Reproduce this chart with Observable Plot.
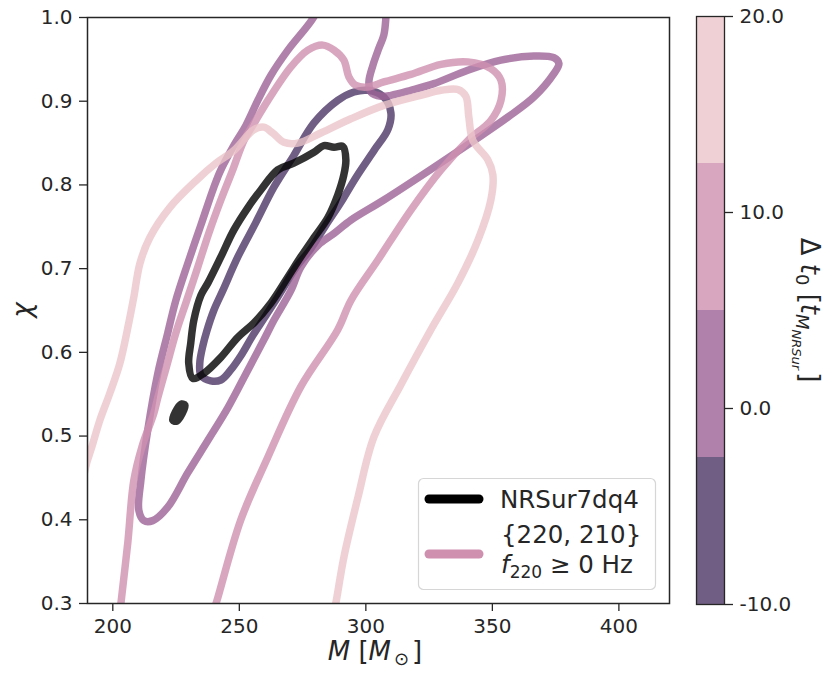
<!DOCTYPE html>
<html><head><meta charset="utf-8">
<script src="https://cdn.jsdelivr.net/npm/d3@7"></script>
<script src="https://cdn.jsdelivr.net/npm/@observablehq/plot@0.6"></script>
<style>
body{margin:0;background:#fff;font-family:"DejaVu Sans",sans-serif;color:#262626}
#wrap{position:relative;width:830px;height:678px;overflow:hidden}
#wrap > svg{position:absolute;left:0;top:0}
</style></head><body><div id="wrap"></div>
<script>
// ---- axes / ticks ----
const xTicks = [200, 250, 300, 350, 400];
const yTicks = [0.3, 0.4, 0.5, 0.6, 0.7, 0.8, 0.9, 1.0];
const cbTicks = [-10, 0, 10, 20];
// ---- colour bar bands (Δt0 edges) ----
const bandLo = [-10, -2.5, 5, 12.5];
const bandHi = [-2.5, 5, 12.5, 20];
const bandMid = [-10, 0, 10, 20];
const bandColors = ["#4c3665", "#9c6396", "#cf90b0", "#ebc4c9"];

// ---- contours [M, chi] ----
const nrsurMain = [[230.0,0.587],[230.8,0.611],[232.0,0.638],[234.8,0.668],[237.6,0.683],[242.7,0.714],[247.8,0.746],[253.4,0.773],[258.5,0.794],[265.2,0.818],[271.5,0.826],[279.5,0.839],[283.4,0.847],[287.4,0.845],[290.9,0.846],[292.1,0.830],[291.3,0.812],[288.9,0.788],[285.0,0.761],[279.5,0.737],[274.3,0.714],[269.2,0.690],[262.5,0.659],[255.7,0.635],[249.4,0.618],[242.7,0.594],[236.0,0.575],[231.6,0.569]];
const nrsurBlob = [[223.7,0.519],[226.9,0.538],[228.5,0.537],[225.3,0.518]];
const dtMinus10 = [[234.8,0.573],[234.4,0.588],[235.6,0.608],[237.2,0.626],[239.9,0.650],[243.5,0.674],[249.4,0.714],[256.5,0.755],[263.6,0.797],[271.5,0.835],[279.5,0.874],[288.9,0.901],[295.3,0.911],[300.8,0.913],[307.1,0.905],[309.9,0.886],[308.7,0.866],[303.2,0.841],[296.1,0.809],[290.1,0.779],[284.2,0.752],[278.3,0.724],[272.3,0.701],[266.4,0.672],[260.5,0.644],[255.3,0.620],[250.6,0.596],[246.6,0.579],[242.7,0.567],[238.7,0.566]];
const dtZero = [[281.5,1.015],[279.1,0.999],[269.2,0.961],[262.5,0.931],[257.3,0.901],[252.6,0.871],[247.8,0.847],[242.7,0.818],[239.9,0.797],[234.8,0.752],[229.6,0.706],[224.9,0.662],[221.7,0.623],[217.8,0.575],[213.8,0.507],[211.1,0.447],[210.3,0.411],[212.3,0.399],[215.8,0.399],[221.7,0.415],[229.6,0.456],[237.6,0.495],[245.5,0.534],[253.4,0.579],[259.7,0.615],[263.6,0.638],[270.4,0.674],[274.3,0.702],[281.1,0.728],[287.4,0.742],[294.1,0.758],[307.1,0.782],[326.9,0.821],[342.7,0.853],[356.1,0.881],[366.4,0.905],[374.3,0.933],[376.3,0.945],[374.3,0.952],[366.4,0.954],[353.4,0.949],[340.3,0.937],[326.9,0.921],[317.8,0.913],[309.9,0.907],[306.0,0.906],[302.0,0.911],[301.2,0.923],[302.8,0.943],[305.1,0.963],[307.1,0.979],[307.9,0.999],[308.0,1.015]];
const dtTen = [[202.8,0.286],[203.2,0.300],[205.9,0.372],[208.3,0.447],[211.5,0.487],[216.2,0.527],[217.8,0.546],[221.4,0.585],[224.9,0.623],[229.2,0.662],[233.6,0.702],[237.9,0.742],[242.7,0.782],[247.4,0.818],[251.8,0.853],[256.5,0.877],[261.3,0.901],[270.4,0.941],[277.1,0.961],[283.0,0.967],[287.4,0.961],[291.3,0.949],[293.3,0.929],[296.0,0.919],[300.8,0.917],[307.1,0.923],[317.8,0.932],[329.7,0.944],[340.3,0.947],[349.4,0.939],[353.4,0.925],[353.4,0.901],[349.4,0.877],[340.3,0.853],[329.7,0.818],[317.8,0.770],[304.7,0.710],[294.1,0.662],[288.9,0.627],[274.3,0.559],[261.3,0.475],[250.6,0.400],[241.5,0.307],[239.9,0.291]];
const dtTwenty = [[187.4,0.435],[189.7,0.468],[191.7,0.487],[194.9,0.519],[198.8,0.551],[202.8,0.587],[206.3,0.635],[208.3,0.666],[210.7,0.706],[214.6,0.737],[222.5,0.773],[233.2,0.806],[240.8,0.826],[247.8,0.841],[255.7,0.866],[259.7,0.869],[263.2,0.862],[267.6,0.851],[273.1,0.850],[282.2,0.862],[294.1,0.879],[307.1,0.895],[321.7,0.907],[329.7,0.913],[336.4,0.914],[339.5,0.906],[340.7,0.881],[342.3,0.853],[348.2,0.830],[350.2,0.812],[349.4,0.782],[344.3,0.734],[336.4,0.683],[325.7,0.627],[313.8,0.561],[303.2,0.499],[296.9,0.427],[291.3,0.355],[288.1,0.300],[287.0,0.286]];

const rows = (pts, id, dt) => pts.map(([M, chi]) => ({M, chi, id, dt}));
const closedRows = [...rows(dtMinus10, "m10", -10)];
const openRows = [...rows(dtZero, "z0", 0), ...rows(dtTen, "t10", 10), ...rows(dtTwenty, "t20", 20)];
const blackRows = [...rows(nrsurMain, "main", null), ...rows(nrsurBlob, "blob", null)];
const bands = bandLo.map((lo, i) => ({lo, hi: bandHi[i], dt: bandMid[i]}));

const colorOpt = {type: "threshold", domain: [-2.5, 5, 12.5], range: bandColors};
const font = {fontFamily: "DejaVu Sans", fontSize: "20px", color: "#262626", background: "transparent", overflow: "visible"};
const lineOpt = {x: "M", y: "chi", z: "id", strokeWidth: 7.5, strokeOpacity: 0.8, strokeLinejoin: "round", strokeLinecap: "round", clip: true};

const main = Plot.plot({
  width: 830, height: 678,
  marginLeft: 87, marginRight: 161, marginTop: 17, marginBottom: 75,
  x: {domain: [190, 420]},
  y: {domain: [0.3, 1.0]},
  color: colorOpt,
  style: font,
  marks: [
    Plot.axisX({ticks: xTicks, tickSize: 8, tickPadding: 7, tickFormat: d => String(d), label: null, fontSize: 20, strokeWidth: 1.3}),
    Plot.axisY({ticks: yTicks, tickSize: 8, tickPadding: 7, tickFormat: d => d.toFixed(1), label: null, fontSize: 20, strokeWidth: 1.3}),
    Plot.line(closedRows, {...lineOpt, stroke: "dt", curve: "catmull-rom-closed"}),
    Plot.line(openRows, {...lineOpt, stroke: "dt", curve: "catmull-rom"}),
    Plot.line(blackRows, {...lineOpt, stroke: "black", curve: "catmull-rom-closed"}),
    Plot.frame({stroke: "#262626", strokeWidth: 1.5})
  ]
});

const cbar = Plot.plot({
  width: 830, height: 678,
  marginLeft: 696, marginRight: 106, marginTop: 16, marginBottom: 74,
  y: {domain: [-10, 20]},
  color: colorOpt,
  style: font,
  marks: [
    Plot.rect(bands, {y1: "lo", y2: "hi", fill: "dt", fillOpacity: 0.8}),
    Plot.axisY({anchor: "right", ticks: cbTicks, tickSize: 8, tickPadding: 7, tickFormat: d => d.toFixed(1), label: null, fontSize: 20, strokeWidth: 1.3}),
    Plot.frame({stroke: "#262626", strokeWidth: 1.3})
  ]
});

const wrap = document.getElementById("wrap");
wrap.appendChild(main);
wrap.appendChild(cbar);

// ---- labels & legend overlay ----
const svg = d3.create("svg").attr("width", 830).attr("height", 678)
  .style("font-family", "DejaVu Sans").style("fill", "#262626");
// x label
const xl = svg.append("text").attr("x", 375).attr("y", 660).attr("text-anchor", "middle").attr("font-size", 26).attr("fill", "#262626");
xl.append("tspan").attr("font-style", "italic").text("M");
xl.append("tspan").text(" [");
xl.append("tspan").attr("font-style", "italic").text("M");
xl.append("tspan").attr("font-size", 18).attr("dy", 5).attr("dx", 3).text("\u2299");
xl.append("tspan").attr("dy", -5).attr("dx", 3).text("]");
// y label
svg.append("text").attr("transform", "translate(31,310) rotate(-90)").attr("text-anchor", "middle")
  .attr("font-size", 26).attr("font-style", "italic").attr("fill", "#262626").text("\u03c7");
// colour bar label
const cl = svg.append("text").attr("transform", "translate(801,310) rotate(90)").attr("text-anchor", "middle").attr("font-size", 26).attr("fill", "#262626");
cl.append("tspan").text("\u0394 ");
cl.append("tspan").attr("font-style", "italic").text("t");
cl.append("tspan").attr("font-size", 18).attr("dy", 5).text("0");
cl.append("tspan").attr("dy", -5).text(" [");
cl.append("tspan").attr("font-style", "italic").text("t");
cl.append("tspan").attr("font-style", "italic").attr("font-size", 18).attr("dy", 5).text("M");
cl.append("tspan").attr("font-style", "italic").attr("font-size", 13).attr("dy", 4).text("NRSur");
cl.append("tspan").attr("dy", -9).attr("dx", 2).text("]");
// legend
const lg = svg.append("g");
lg.append("rect").attr("x", 418.5).attr("y", 478.5).attr("width", 237).attr("height", 111).attr("rx", 5)
  .attr("fill", "white").attr("fill-opacity", 0.8).attr("stroke", "#d6d6d6").attr("stroke-width", 1.2);
lg.append("line").attr("x1", 429).attr("x2", 479).attr("y1", 499).attr("y2", 499).attr("stroke", "black").attr("stroke-width", 9).attr("stroke-linecap", "round");
lg.append("line").attr("x1", 429).attr("x2", 479).attr("y1", 554).attr("y2", 554).attr("stroke", bandColors[2]).attr("stroke-width", 9).attr("stroke-linecap", "round");
lg.append("text").attr("x", 500).attr("y", 508).attr("font-size", 24.5).attr("fill", "#262626").text("NRSur7dq4");
lg.append("text").attr("x", 501).attr("y", 543).attr("font-size", 24.5).attr("fill", "#262626").text("{220, 210}");
const l3 = lg.append("text").attr("x", 501).attr("y", 573).attr("font-size", 24.5).attr("fill", "#262626");
l3.append("tspan").attr("font-style", "italic").text("f");
l3.append("tspan").attr("font-size", 17).attr("dy", 5).text("220");
l3.append("tspan").attr("dy", -5).text(" \u2265 0 Hz");
wrap.appendChild(svg.node());
</script></body></html>
